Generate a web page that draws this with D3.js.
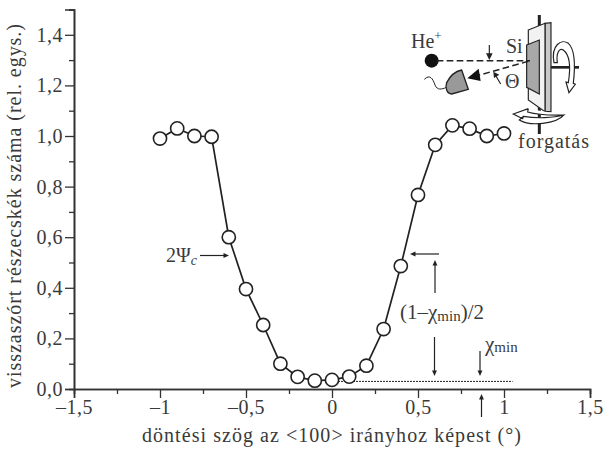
<!DOCTYPE html>
<html>
<head>
<meta charset="utf-8">
<script src="https://cdn.jsdelivr.net/npm/d3@7"></script>
<style>
  html, body { margin: 0; padding: 0; background: #fff; }
  svg { display: block; }
  text { font-family: "Liberation Serif", serif; fill: #3a3a3a; }
</style>
</head>
<body>
<svg></svg>
<script>
// rocking curve values
const angles = [-1, -0.9, -0.8, -0.7, -0.6, -0.5, -0.4, -0.3, -0.2, -0.1, 0, 0.1, 0.2, 0.3, 0.4, 0.5, 0.6, 0.7, 0.8, 0.9, 1.0];
const counts = [0.99, 1.03, 1.0, 0.997, 0.6, 0.395, 0.253, 0.1, 0.048, 0.033, 0.036, 0.049, 0.092, 0.237, 0.486, 0.767, 0.965, 1.042, 1.029, 1.0, 1.01];

const xMajor = [-1.5, -1, -0.5, 0, 0.5, 1, 1.5];
const xMinor = [-1.25, -0.75, -0.25, 0.25, 0.75, 1.25];
const yMajor = [0, 0.2, 0.4, 0.6, 0.8, 1.0, 1.2, 1.4];
const yMinor = [0.1, 0.3, 0.5, 0.7, 0.9, 1.1, 1.3, 1.5];

const chimin = 0.03;
const chiminX = [0, 1.05];

const WIDTH = 603;
const HEIGHT = 449;
const INK = "#333";

const svg = d3.select("svg").attr("width", WIDTH).attr("height", HEIGHT);

//scales
const xScale = d3.scaleLinear().domain([-1.5, 1.5]).range([74, 590]);
const yScale = d3.scaleLinear().domain([0, 1.5]).range([389, 9.5]);

const fmtX = d => (d < 0 ? "\u2013" : "") + String(Math.abs(d)).replace(".", ",");
const fmtY = d => d.toFixed(1).replace(".", ",");

//axes
svg.append("g").attr("transform", `translate(0, ${yScale(0)})`)
  .call(d3.axisBottom(xScale).tickValues(xMajor).tickSize(9).tickPadding(2).tickFormat(fmtX));
svg.append("g").attr("transform", `translate(0, ${yScale(0)})`)
  .call(d3.axisBottom(xScale).tickValues(xMinor).tickSize(5).tickFormat(""));
svg.append("g").attr("transform", `translate(${xScale(-1.5)}, 0)`)
  .call(d3.axisLeft(yScale).tickValues(yMajor).tickSize(9).tickPadding(2).tickFormat(fmtY));
svg.append("g").attr("transform", `translate(${xScale(-1.5)}, 0)`)
  .call(d3.axisLeft(yScale).tickValues(yMinor).tickSize(5).tickFormat(""));

svg.selectAll(".domain").attr("stroke", INK).attr("stroke-width", 1.6);
svg.selectAll(".tick line").attr("stroke", INK).attr("stroke-width", 1.3);
svg.selectAll(".tick text").attr("font-size", 20).attr("fill", "#3a3a3a")
  .attr("font-family", '"Liberation Serif", serif').style("letter-spacing", "0.5px");

//axis titles
svg.append("text").attr("x", 142).attr("y", 442).attr("font-size", 20)
  .attr("textLength", 379).attr("lengthAdjust", "spacing")
  .text("döntési szög az <100> irányhoz képest (°)");
svg.append("text").attr("transform", "translate(21, 388) rotate(-90)").attr("font-size", 20)
  .attr("textLength", 364).attr("lengthAdjust", "spacing")
  .text("visszaszórt részecskék száma (rel. egys.)");

//chi min dotted line
svg.append("line")
  .attr("x1", xScale(chiminX[0])).attr("x2", xScale(chiminX[1]))
  .attr("y1", yScale(chimin)).attr("y2", yScale(chimin))
  .attr("stroke", "#222").attr("stroke-width", 1).attr("stroke-dasharray", "2 1");

//curve
const series = angles.map((a, i) => ({ a: a, c: counts[i] }));
const line = d3.line().x(d => xScale(d.a)).y(d => yScale(d.c));
svg.append("path").datum(series).attr("d", line)
  .attr("fill", "none").attr("stroke", "#222").attr("stroke-width", 1.7);
svg.selectAll(".pt").data(series).enter().append("circle").classed("pt", true)
  .attr("cx", d => xScale(d.a)).attr("cy", d => yScale(d.c)).attr("r", 6.6)
  .attr("fill", "#fff").attr("stroke", "#222").attr("stroke-width", 1.6);

//annotation arrows
function arrow(x1, y1, x2, y2, size) {
  const s = size || 6;
  const ang = Math.atan2(y2 - y1, x2 - x1);
  const g = svg.append("g");
  g.append("line").attr("x1", x1).attr("y1", y1)
    .attr("x2", x2 - Math.cos(ang) * s * 0.8).attr("y2", y2 - Math.sin(ang) * s * 0.8)
    .attr("stroke", "#222").attr("stroke-width", 1.2);
  const p = d3.path();
  p.moveTo(x2, y2);
  p.lineTo(x2 - Math.cos(ang - 0.42) * s, y2 - Math.sin(ang - 0.42) * s);
  p.lineTo(x2 - Math.cos(ang + 0.42) * s, y2 - Math.sin(ang + 0.42) * s);
  p.closePath();
  g.append("path").attr("d", p.toString()).attr("fill", "#222");
}

arrow(200, 255.5, 229, 255.5);
arrow(439, 254, 410, 254);
arrow(435, 293, 435, 260);
arrow(434.5, 337, 434.5, 376);
arrow(480, 351, 480, 376);
arrow(481.5, 417, 481.5, 394);

const psi = svg.append("text").attr("x", 166).attr("y", 262).attr("font-size", 20);
psi.append("tspan").text("2\u03A8");
psi.append("tspan").attr("font-style", "italic").attr("font-size", 14).attr("dy", 3).text("c");

const half = svg.append("text").attr("x", 400).attr("y", 319).attr("font-size", 21);
half.append("tspan").text("(1\u2013\u03C7");
half.append("tspan").attr("font-size", 15).attr("dy", 2).text("min");
half.append("tspan").attr("dy", -2).text(")/2");

const chi = svg.append("text").attr("x", 485).attr("y", 351).attr("font-size", 21);
chi.append("tspan").text("\u03C7");
chi.append("tspan").attr("font-size", 15).attr("dy", 1).text("min");

//experiment sketch, drawn in a 3x space like the crop it was read from
const sk = svg.append("g").attr("transform", "translate(380, 0) scale(0.3333)");
const skInk = "#222";

sk.append("line").attr("x1", 478).attr("x2", 478).attr("y1", 45).attr("y2", 402)
  .attr("stroke", skInk).attr("stroke-width", 9);
sk.append("line").attr("x1", 513).attr("x2", 597).attr("y1", 202).attr("y2", 202)
  .attr("stroke", skInk).attr("stroke-width", 8);
sk.append("path").attr("d", "M495,70 L513,68 L513,335 L495,335 Z")
  .attr("fill", "#c8c8c8").attr("stroke", skInk).attr("stroke-width", 3.5);
sk.append("path").attr("d", "M445,90 L495,70 L495,335 L445,300 Z")
  .attr("fill", "#f2f2f2").attr("stroke", skInk).attr("stroke-width", 3.5);
sk.append("path").attr("d", "M440,135 L478,120 L478,282 L440,262 Z")
  .attr("fill", "#a8a8a8").attr("stroke", skInk).attr("stroke-width", 3.5);

// rotation arrows
sk.append("path")
  .attr("d", "M522,188 C512,135 545,115 565,130 C588,150 584,215 580,250 L586,253 L567,278 L558,246 L565,248 C572,205 570,165 550,150 C538,142 528,160 532,188 Z")
  .attr("fill", "#fff").attr("stroke", skInk).attr("stroke-width", 3.5);
sk.append("path")
  .attr("d", "M445,326 L400,342 L428,356 L430,349 C470,356 520,354 552,345 C530,372 450,380 418,360 L430,349 M445,326 L443,336 C470,344 520,346 552,345")
  .attr("fill", "#fff").attr("stroke", skInk).attr("stroke-width", 3.5);

// beam and detector
sk.append("circle").attr("cx", 155).attr("cy", 182).attr("r", 21).attr("fill", "#111");
sk.append("line").attr("x1", 170).attr("x2", 450).attr("y1", 182).attr("y2", 182)
  .attr("stroke", skInk).attr("stroke-width", 4.5).attr("stroke-dasharray", "20 10");
sk.append("line").attr("x1", 445).attr("x2", 295).attr("y1", 184).attr("y2", 226)
  .attr("stroke", skInk).attr("stroke-width", 4.5).attr("stroke-dasharray", "20 10");
sk.append("path").attr("d", "M262,235 L296,206 L302,243 Z").attr("fill", "#111");
sk.append("path").attr("d", "M200,248 C215,218 235,212 245,210 L265,268 L215,282 C200,282 195,262 200,248 Z")
  .attr("fill", "#999").attr("stroke", skInk).attr("stroke-width", 4);
sk.append("path").attr("d", "M133,238 C150,222 158,235 165,255 C172,272 185,268 200,262")
  .attr("fill", "none").attr("stroke", skInk).attr("stroke-width", 3);
sk.append("line").attr("x1", 328).attr("x2", 328).attr("y1", 135).attr("y2", 170)
  .attr("stroke", skInk).attr("stroke-width", 3.5);
sk.append("path").attr("d", "M328,180 L318,160 L338,160 Z").attr("fill", skInk);
sk.append("line").attr("x1", 362).attr("x2", 348).attr("y1", 252).attr("y2", 228)
  .attr("stroke", skInk).attr("stroke-width", 3.5);
sk.append("path").attr("d", "M340,215 L358,224 L342,234 Z").attr("fill", skInk);

const he = svg.append("text").attr("x", 411).attr("y", 48).attr("font-size", 20);
he.append("tspan").text("He");
he.append("tspan").attr("font-size", 13).attr("dy", -8).text("+");
svg.append("text").attr("x", 506).attr("y", 53).attr("font-size", 20).text("Si");
svg.append("text").attr("x", 505).attr("y", 88).attr("font-size", 20).text("\u0398");
svg.append("text").attr("x", 518).attr("y", 148).attr("font-size", 20)
  .attr("textLength", 71).attr("lengthAdjust", "spacing").text("forgatás");
</script>
</body>
</html>
